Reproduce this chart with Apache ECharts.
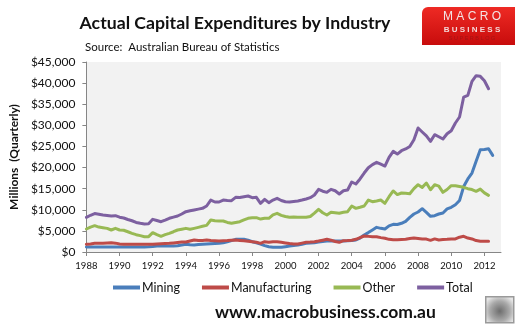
<!DOCTYPE html>
<html>
<head>
<meta charset="utf-8">
<script src="https://cdn.jsdelivr.net/npm/echarts@6/dist/echarts.min.js"></script>
<style>
  html, body { margin: 0; padding: 0; background: #fff; }
  #chart { width: 525px; height: 326px; }
</style>
</head>
<body>
<div id="chart"></div>
<script>
// Quarterly capital expenditure, $ millions (ABS)
const startYear = 1988;
const quarterSlots = 101;           // axis runs 1988 Q1 .. 2013 Q1
const yearTickStep = 8;             // a labelled tick every two years

const mining = [
  1180, 1190, 1200, 1190, 1180, 1190, 1200, 1200, 1190, 1180,
  1180, 1180, 1190, 1190, 1200, 1220, 1300, 1420, 1420, 1400,
  1420, 1450, 1500, 1650, 1820, 1700, 1660, 1750, 1850, 1890,
  1950, 2000, 2050, 2200, 2440, 2700, 3000, 3000, 3000, 2800,
  2440, 2200, 1890, 1500, 1260, 1150, 1100, 1100, 1250, 1420,
  1550, 1660, 1850, 2050, 2150, 2200, 2350, 2500, 2600, 2600,
  2600, 2600, 2600, 2650, 2750, 2840, 3300, 4030, 4600, 5210,
  5840, 5600, 5450, 6200, 6550, 6500, 6800, 7260, 8200, 9000,
  9470, 10260, 9400, 8450, 8600, 9000, 9240, 10200, 10590, 11200,
  12200, 15500, 17300, 18700, 21500, 24220, 24300, 24460, 22890
];

const manufacturing = [
  1820, 1900, 2050, 2050, 2100, 2150, 2200, 2100, 1890, 1850,
  1820, 1820, 1820, 1820, 1820, 1820, 1850, 1900, 1950, 2000,
  2050, 2150, 2250, 2350, 2350, 2600, 2840, 2700, 2750, 2840,
  2700, 2650, 2600, 2650, 2700, 2800, 2840, 2750, 2650, 2550,
  2440, 2300, 2050, 2440, 2300, 2400, 2440, 2300, 2150, 2000,
  1890, 1890, 2100, 2290, 2350, 2440, 2600, 2800, 3000, 2800,
  2500, 2290, 2680, 2700, 2800, 3000, 3400, 3790, 3700, 3630,
  3600, 3400, 3240, 3000, 2900, 2920, 2950, 3000, 3200, 3320,
  3200, 3100, 3050, 2760, 3100, 2850, 2950, 3000, 3100, 3100,
  3500, 3710, 3300, 3100, 2700, 2550, 2520, 2520
];

const other = [
  5450, 5900, 6230, 5900, 5760, 5600, 5210, 5600, 5210, 5150,
  4800, 4420, 4100, 3870, 3630, 3630, 4580, 4100, 3710, 4100,
  4420, 4800, 5210, 5400, 5600, 5370, 5600, 5840, 6100, 6310,
  7580, 7400, 7340, 7340, 7000, 6790, 7000, 7180, 7600, 7980,
  8100, 8130, 7800, 8000, 7980, 8800, 9160, 8680, 8400, 8210,
  8300, 8250, 8210, 8210, 8400, 9200, 10110, 9300, 8760, 9400,
  9300, 9160, 9400, 9550, 10890, 10340, 10600, 10890, 12310, 11920,
  12100, 12310, 11530, 13100, 14450, 13600, 13970, 13900, 13800, 15000,
  15940, 15300, 16340, 14750, 15940, 15600, 14130, 14800, 15700, 15700,
  15500, 15320, 15000, 14800, 14370, 14900, 14000, 13420
];

const total = [
  8220, 8700, 9100, 8950, 8760, 8650, 8520, 8600, 8250, 8050,
  7700, 7400, 7000, 6800, 6650, 6700, 7740, 7450, 7180, 7550,
  7980, 8250, 8520, 9000, 9550, 9750, 9950, 10150, 10340, 10890,
  12310, 11840, 11840, 12310, 12200, 12150, 12950, 12900, 13100, 13260,
  12870, 12950, 11530, 12470, 11680, 12300, 12710, 12200, 11900, 11840,
  11950, 12080, 12300, 12550, 12870, 13500, 14840, 14400, 14130, 14840,
  14500, 13730, 14500, 14680, 16580, 16100, 17300, 18700, 19960, 20700,
  21240, 20800, 20360, 22420, 23830, 23200, 23990, 24400, 25000, 26600,
  29360, 28420, 27500, 26210, 27780, 27300, 26760, 28000, 28720, 30550,
  31970, 36700, 37100, 40420, 41750, 41600, 40570, 38670
];

const seriesNames = ['Mining', 'Manufacturing', 'Other', 'Total'];
const seriesColors = ['#4A7EBB', '#BE4B48', '#98B954', '#7D60A0'];
const seriesValues = [mining, manufacturing, other, total];

// quarter slots along the category axis
const quarters = [];
for (let i = 0; i < quarterSlots; i++) {
  quarters.push((startYear + Math.floor(i / 4)) + ' Q' + (i % 4 + 1));
}

const FONT = 'Lato, "Open Sans", sans-serif';

const chart = echarts.init(document.getElementById('chart'), null, { renderer: 'canvas' });

chart.setOption({
  animation: false,
  backgroundColor: '#ffffff',
  textStyle: { fontFamily: FONT },
  title: [
    {
      text: 'Actual Capital Expenditures by Industry',
      left: 230, top: 9, textAlign: 'center',
      textStyle: { fontFamily: FONT, fontWeight: 'bold', fontSize: 17.7, color: '#111' }
    },
    {
      text: 'Source:  Australian Bureau of Statistics',
      left: 80, top: 36,
      textStyle: { fontFamily: FONT, fontWeight: 'normal', fontSize: 11.5, color: '#111' }
    }
  ],
  legend: {
    data: seriesNames,
    left: 108, top: 276,
    icon: 'rect',
    itemWidth: 27, itemHeight: 4,
    itemGap: 22,
    textStyle: { fontFamily: FONT, fontSize: 12.5, color: '#111', padding: [0, 0, 0, -3] }
  },
  grid: {
    left: 85, right: 24, top: 62, bottom: 74,
    show: true, backgroundColor: '#F2F2F2', borderWidth: 0
  },
  xAxis: {
    type: 'category',
    data: quarters,
    boundaryGap: false,
    axisLine: { lineStyle: { color: '#868686', width: 1 } },
    axisTick: { interval: yearTickStep - 1, length: 4, lineStyle: { color: '#868686' } },
    axisLabel: {
      interval: yearTickStep - 1,
      margin: 9,
      fontFamily: FONT, fontSize: 9.5, color: '#111',
      formatter: v => v.slice(0, 4)
    },
    splitLine: { show: false }
  },
  yAxis: {
    type: 'value',
    min: 0, max: 45000, interval: 5000,
    name: 'Millions  (Quarterly)',
    nameLocation: 'middle',
    nameGap: 64,
    nameTextStyle: { fontFamily: FONT, fontWeight: 'bold', fontSize: 12, color: '#111' },
    axisLine: { show: true, lineStyle: { color: '#868686', width: 1 } },
    axisTick: { show: true, length: 4, lineStyle: { color: '#868686' } },
    axisLabel: {
      margin: 11,
      fontFamily: FONT, fontSize: 12, color: '#111',
      formatter: v => '$' + v.toLocaleString('en-US')
    },
    splitLine: { show: false }
  },
  series: seriesNames.map((name, k) => ({
    name: name,
    type: 'line',
    data: seriesValues[k],
    symbol: 'none',
    smooth: false,
    lineStyle: { color: seriesColors[k], width: 3, join: 'round', cap: 'round' },
    itemStyle: { color: seriesColors[k] }
  })),
  graphic: [
    // MacroBusiness badge
    {
      type: 'group', left: 422, top: 7,
      children: [
        {
          type: 'rect',
          shape: { x: 0, y: 0, width: 93, height: 38, r: [6, 0, 0, 0] },
          style: {
            fill: new echarts.graphic.LinearGradient(0, 0, 0, 1, [
              { offset: 0, color: '#ee2a24' },
              { offset: 1, color: '#c80c0c' }
            ])
          }
        },
        {
          type: 'text', x: 50, y: 10,
          style: { text: 'M A C R O', fill: '#f3e4e4', font: '12px "Liberation Sans", sans-serif', align: 'center', verticalAlign: 'middle' }
        },
        {
          type: 'text', x: 50, y: 23,
          style: { text: 'B U S I N E S S', fill: '#f3d8d8', font: 'bold 8px "Liberation Sans", sans-serif', align: 'center', verticalAlign: 'middle' }
        },
        {
          type: 'text', x: 50, y: 31,
          style: { text: 'S U P E R B L O G', fill: '#a31414', font: '5.5px "Liberation Sans", sans-serif', align: 'center', verticalAlign: 'middle' }
        }
      ]
    },
    // site address
    {
      type: 'text', left: 215, top: 303,
      style: { text: 'www.macrobusiness.com.au', fill: '#111', font: 'bold 17.5px Lato, sans-serif' }
    },
    // small mascot tile
    {
      type: 'group', left: 485, top: 296,
      children: [
        {
          type: 'rect',
          shape: { x: 0, y: 0, width: 28, height: 26 },
          style: {
            fill: new echarts.graphic.RadialGradient(0.5, 0.55, 0.6, [
              { offset: 0, color: '#6d6d6d' },
              { offset: 0.6, color: '#a9a9a9' },
              { offset: 1, color: '#e6e6e6' }
            ]),
            stroke: '#9a9a9a', lineWidth: 1.5
          }
        }
      ]
    }
  ]
});
</script>
</body>
</html>
